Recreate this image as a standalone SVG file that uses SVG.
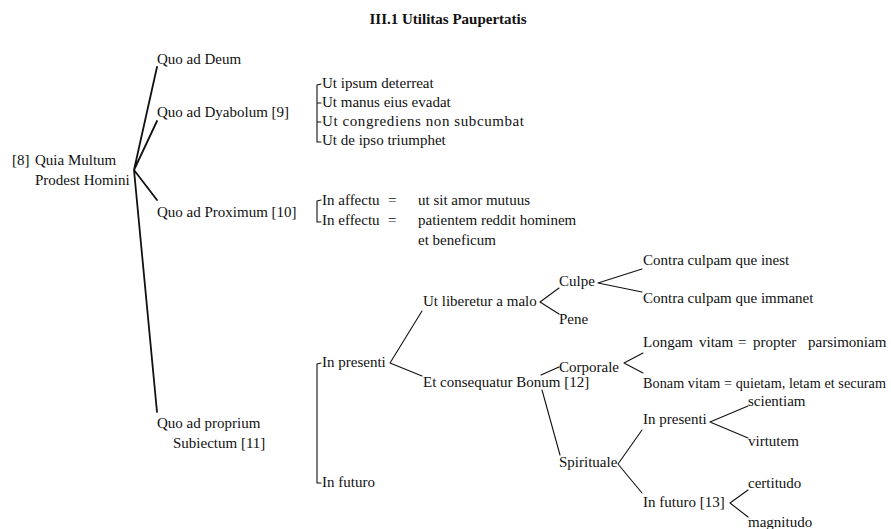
<svg xmlns="http://www.w3.org/2000/svg" width="891" height="529" viewBox="0 0 891 529">
<style>
text{font-family:"Liberation Serif","Times New Roman",serif;font-size:15px;fill:#111}
.title{font-weight:bold;text-anchor:middle}
.main{stroke:#111;stroke-width:1.8;fill:none;stroke-linecap:round}
.br{stroke:#111;stroke-width:1.1;fill:none;stroke-linecap:round;stroke-linejoin:round}
</style>
<rect width="891" height="529" fill="#fff"/>
<text class="title" x="448" y="24">III.1 Utilitas Paupertatis</text>

<g id="connectors">
  <path class="main" d="M134,170 L157,67 M134,170 L157,121 M134,170 L157,200 M134,170 L157,412"/>
  <path class="br" d="M321,84 L317,85 L317,142 L321,142 M317,103 L321,103 M317,122 L321,122"/>
  <path class="br" d="M321,200 L317,201 L317,222 L321,222"/>
  <path class="br" d="M321,363 L317,364 L317,483 L321,483"/>
  <path class="br" d="M422,311 L390,363 L422,376"/>
  <path class="br" d="M559,288 L540,302 L559,314"/>
  <path class="br" d="M642,269 L598,283 L642,292"/>
  <path class="br" d="M541,375 L559,367"/>
  <path class="br" d="M643,353 L624,363 L643,373"/>
  <path class="br" d="M542,390 L560,455"/>
  <path class="br" d="M642,430 L618,464 L642,493"/>
  <path class="br" d="M748,406 L710,422 L748,438"/>
  <path class="br" d="M748,490 L730,503 L748,517"/>
</g>

<g id="root"><text x="12" y="165">[8]</text><text x="35" y="165">Quia Multum</text><text x="35" y="185">Prodest Homini</text></g>
<g id="deum"><text x="157" y="64">Quo ad Deum</text></g>
<g id="dyabolum"><text x="157" y="117">Quo ad Dyabolum [9]</text></g>
<g id="dyabolum-items">
  <text x="322" y="88">Ut ipsum deterreat</text>
  <text x="322" y="107">Ut manus eius evadat</text>
  <text x="322" y="126" textLength="202" lengthAdjust="spacing">Ut congrediens non subcumbat</text>
  <text x="322" y="145">Ut de ipso triumphet</text>
</g>
<g id="proximum"><text x="157" y="217">Quo ad Proximum [10]</text></g>
<g id="proximum-items">
  <text x="322" y="205">In affectu</text><text x="388" y="205">=</text><text x="418" y="205">ut sit amor mutuus</text>
  <text x="322" y="225">In effectu</text><text x="388" y="225">=</text><text x="418" y="225">patientem reddit hominem</text>
  <text x="418" y="245">et beneficum</text>
</g>
<g id="proprium"><text x="157" y="428">Quo ad proprium</text><text x="173" y="448">Subiectum [11]</text></g>
<g id="in-presenti"><text x="322" y="367">In presenti</text></g>
<g id="in-futuro"><text x="322" y="487">In futuro</text></g>
<g id="liberetur"><text x="423" y="306">Ut liberetur a malo</text></g>
<g id="consequatur"><text x="423" y="387">Et consequatur Bonum [12]</text></g>
<g id="culpe"><text x="559" y="286">Culpe</text></g>
<g id="pene"><text x="559" y="324">Pene</text></g>
<g id="inest"><text x="643" y="265">Contra culpam que inest</text></g>
<g id="immanet"><text x="643" y="303">Contra culpam que immanet</text></g>
<g id="corporale"><text x="559" y="372">Corporale</text></g>
<g id="longam"><text y="347"><tspan x="643">Longam</tspan><tspan x="699">vitam</tspan><tspan x="738">=</tspan><tspan x="753">propter</tspan><tspan x="808">parsimoniam</tspan></text></g>
<g id="bonam"><text x="643" y="388" style="font-size:14.2px" textLength="243" lengthAdjust="spacing">Bonam vitam = quietam, letam et securam</text></g>
<g id="spirituale"><text x="559" y="467">Spirituale</text></g>
<g id="sp-presenti"><text x="643" y="424">In presenti</text></g>
<g id="sp-futuro"><text x="643" y="507">In futuro [13]</text></g>
<g id="scientiam"><text x="748" y="406">scientiam</text></g>
<g id="virtutem"><text x="748" y="446">virtutem</text></g>
<g id="certitudo"><text x="748" y="488">certitudo</text></g>
<g id="magnitudo"><text x="748" y="527">magnitudo</text></g>
</svg>
